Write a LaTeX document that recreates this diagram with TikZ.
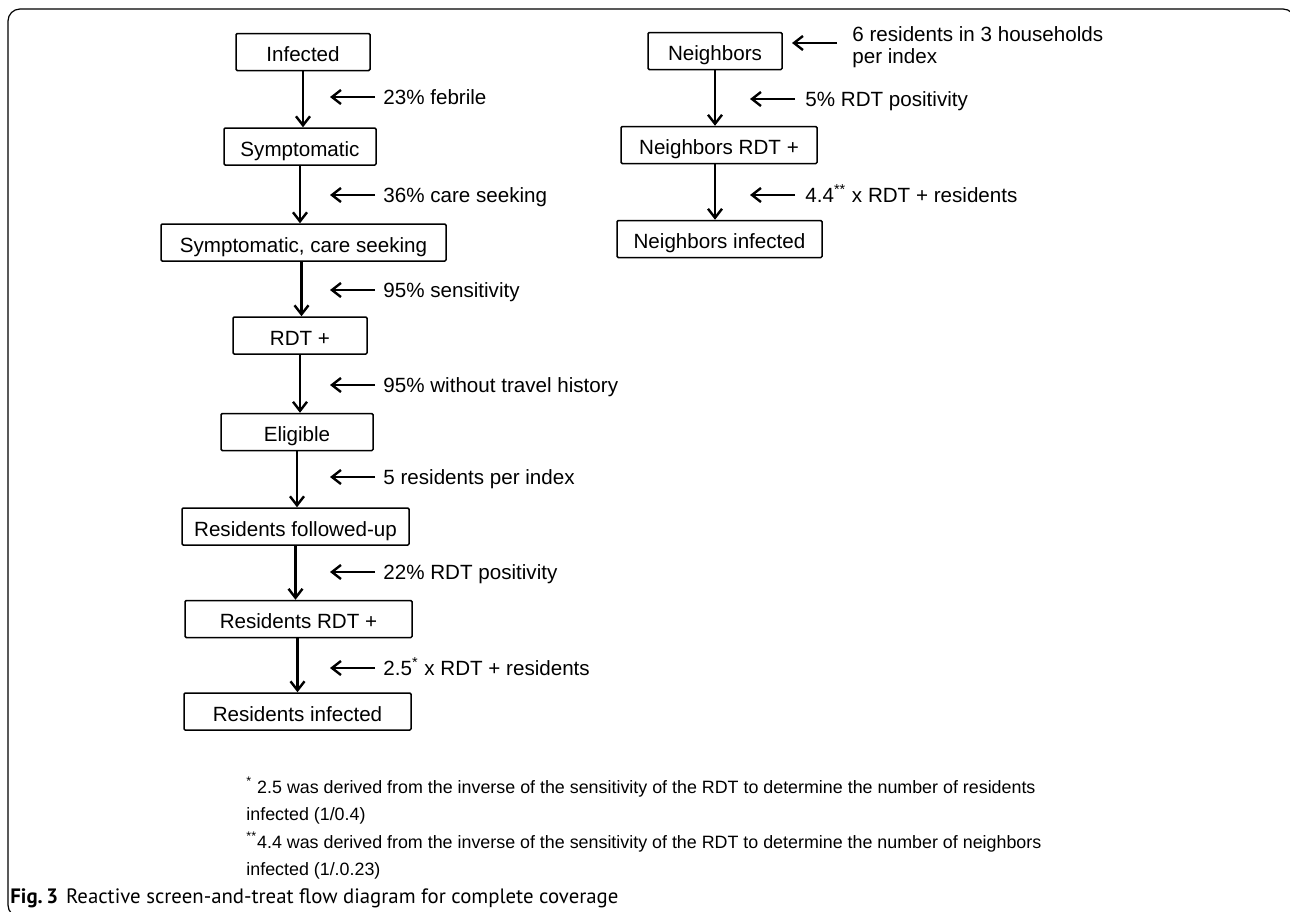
\documentclass[tikz,border=0pt]{standalone}
\usepackage{fontspec}
\setmainfont{Liberation Sans}
\newfontfamily\capfont{PT Sans}
\usetikzlibrary{arrows.meta}
\begin{document}
\begin{tikzpicture}[x=0.5pt,y=-0.5pt,
  box/.style={draw, line width=0.75pt, rounded corners=0.6pt, inner sep=0pt, minimum height=18.5pt,
    font=\fontsize{10.3}{12}\selectfont, text height=11.2pt, text depth=1.4pt},
  lab/.style={anchor=base west, inner sep=0pt, font=\fontsize{10.3}{12}\selectfont},
  arr/.style={line width=1.2pt, -{Straight Barb[length=4.5pt,width=7pt]}},
  foot/.style={anchor=base west, inner sep=0pt, font=\fontsize{8.93}{11}\selectfont},
]
\useasboundingbox (0,0) rectangle (1290,911);
\draw[line width=0.6pt, rounded corners=6pt] (8,9) rectangle (1295,917);

% left column
\node[box, minimum width=67pt]   (inf)  at (303,52)    {Infected};
\node[box, minimum width=76pt]   (sym)  at (300,146.5) {Symptomatic};
\node[box, minimum width=142.5pt](scs)  at (303.5,242.5) {Symptomatic, care seeking};
\node[box, minimum width=67pt]   (rdt)  at (300,335.5) {RDT +};
\node[box, minimum width=76pt]   (eli)  at (297,432)   {Eligible};
\node[box, minimum width=113.5pt](rfu)  at (295.5,526.5) {Residents followed-up};
\node[box, minimum width=113.5pt](rrdt) at (298.5,619) {Residents RDT +};
\node[box, minimum width=113.5pt](rinf) at (297.5,711.5) {Residents infected};

\draw[arr] (inf.south)  -- (inf.south  |- sym.north);
\draw[arr] (sym.south)  -- (sym.south  |- scs.north);
\draw[arr] ([xshift=-1pt]scs.south)  -- ([xshift=-1pt]scs.south  |- rdt.north);
\draw[arr] (rdt.south)  -- (rdt.south  |- eli.north);
\draw[arr] (eli.south)  -- (eli.south  |- rfu.north);
\draw[arr] (rfu.south)  -- (rfu.south  |- rrdt.north);
\draw[arr] ([xshift=-0.5pt]rrdt.south) -- ([xshift=-0.5pt]rrdt.south |- rinf.north);

% left labels
\node[lab] (l1) at (383,104) {23\% febrile};
\node[lab] (l2) at (383,202) {36\% care seeking};
\node[lab] (l3) at (383,297) {95\% sensitivity};
\node[lab] (l4) at (383,392) {95\% without travel history};
\node[lab] (l5) at (383,484) {5 residents per index};
\node[lab] (l6) at (383,579) {22\% RDT positivity};
\node[lab] (l7) at (383,675) {2.5\textsuperscript{*} x RDT + residents};
\coordinate (h1) at (330,97);
\coordinate (h2) at (330,195);
\coordinate (h3) at (330,290);
\coordinate (h4) at (330,385);
\coordinate (h5) at (330,477);
\coordinate (h6) at (330,572);
\coordinate (h7) at (330,668);
\foreach \i in {1,...,7} {
  \draw[arr] ([xshift=-4pt]l\i.west |- h\i) -- (h\i);
}

% right column
\node[box, minimum width=67pt]   (nb)   at (715,51)    {Neighbors};
\node[box, minimum width=98pt]   (nrdt) at (719,145)   {Neighbors RDT +};
\node[box, minimum width=102.5pt](ninf) at (719.5,239) {Neighbors infected};
\draw[arr] (nb.south) -- (nb.south |- nrdt.north);
\draw[arr] ([xshift=-2pt]nrdt.south) -- ([xshift=-2pt]nrdt.south |- ninf.north);

\node[lab] (r1a) at (852,41) {6 residents in 3 households};
\node[lab] (r1b) at (852,63) {per index};
\node[lab] (r2) at (805,106) {5\% RDT positivity};
\node[lab] (r3) at (805,202) {4.4\textsuperscript{**} x RDT + residents};
\coordinate (g1) at (792,43);
\coordinate (g2) at (750,99);
\coordinate (g3) at (750,195);
\draw[arr] ([xshift=-7.5pt]r1a.west |- g1) -- (g1);
\draw[arr] ([xshift=-5pt]r2.west |- g2) -- (g2);
\draw[arr] ([xshift=-5pt]r3.west |- g3) -- (g3);

% footnotes
\node[foot] (f1) at (246,793) {\textsuperscript{*} 2.5 was derived from the inverse of the sensitivity of the RDT to determine the number of residents};
\node[foot] (f2) at (246,820) {infected (1/0.4)};
\node[foot] (f3) at (246,848) {\textsuperscript{**}4.4 was derived from the inverse of the sensitivity of the RDT to determine the number of neighbors};
\node[foot] (f4) at (246,875) {infected (1/.0.23)};

% caption
\node[anchor=base west, inner sep=0pt, font=\capfont\fontsize{10.4}{12}\selectfont] (cap) at (10,903)
  {\textbf{Fig.\,3}\hspace{4pt}Reactive screen-and-treat flow diagram for complete coverage};
\end{tikzpicture}
\end{document}
